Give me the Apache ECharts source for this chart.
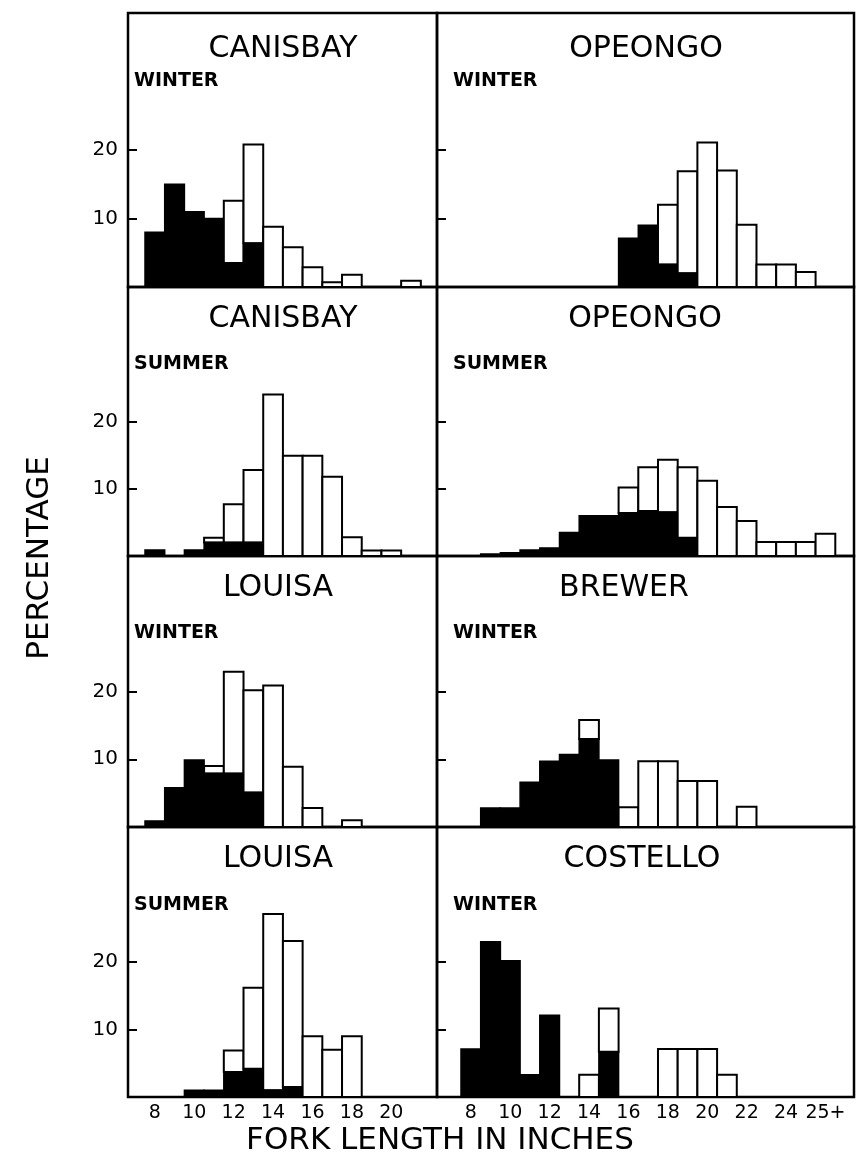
<!DOCTYPE html>
<html><head><meta charset="utf-8">
<script src="https://cdn.jsdelivr.net/npm/echarts@6/dist/echarts.min.js"></script>
<style>html,body{margin:0;padding:0;background:#fff}#c{width:864px;height:1168px}</style>
</head><body><div id="c"></div>
<script>
// ---- categories (inch classes) ----
const leftCats  = ['8','9','10','11','12','13','14','15','16','17','18','19','20','21','22'];
const rightCats = ['8','9','10','11','12','13','14','15','16','17','18','19','20','21','22','23','24','25','25+'];
// ---- tick labels ----
const leftTickLabels  = ['8','10','12','14','16','18','20'];
const rightTickLabels = ['8','10','12','14','16','18','20','22','24','25+'];
const yTickValues = [10, 20];
// ---- series values: black = lower (filled) part, total = full bar height (percent) ----
const canisbayWinterBlack = [8, 15, 11, 10, 3.5, 6.4, 0, 0, 0, 0, 0, 0, 0, 0];
const canisbayWinterTotal = [8, 15, 11, 10, 12.6, 20.8, 8.8, 5.8, 2.9, 0.7, 1.8, 0, 0, 0.9];
const opeongoWinterBlack  = [0, 0, 0, 0, 0, 0, 0, 0, 7.1, 9.0, 3.3, 2.0, 0, 0, 0, 0, 0, 0, 0];
const opeongoWinterTotal  = [0, 0, 0, 0, 0, 0, 0, 0, 7.1, 9.0, 12.0, 16.9, 21.1, 17.0, 9.1, 3.3, 3.3, 2.2, 0];
const canisbaySummerBlack = [0.9, 0, 0.9, 2.0, 2.0, 2.0, 0, 0, 0, 0, 0, 0, 0];
const canisbaySummerTotal = [0.9, 0, 0.9, 2.7, 7.7, 12.8, 24.0, 14.9, 14.9, 11.8, 2.8, 0.8, 0.8];
const opeongoSummerBlack  = [0, 0.3, 0.5, 0.9, 1.2, 3.5, 6.0, 6.0, 6.4, 6.7, 6.5, 2.7, 0, 0, 0, 0, 0, 0, 0];
const opeongoSummerTotal  = [0, 0.3, 0.5, 0.9, 1.2, 3.5, 6.0, 6.0, 10.2, 13.2, 14.3, 13.2, 11.2, 7.3, 5.2, 2.1, 2.1, 2.1, 3.3];
const louisaWinterBlack   = [0.9, 5.8, 9.9, 7.9, 7.9, 5.1, 0, 0, 0, 0, 0];
const louisaWinterTotal   = [0.9, 5.8, 9.9, 9.0, 22.9, 20.2, 20.9, 8.9, 2.8, 0, 1.0];
const brewerWinterBlack   = [0, 2.8, 2.8, 6.6, 9.7, 10.7, 13.0, 9.9, 0, 0, 0, 0, 0, 0, 0, 0, 0, 0, 0];
const brewerWinterTotal   = [0, 2.8, 2.8, 6.6, 9.7, 10.7, 15.8, 9.9, 2.9, 9.7, 9.7, 6.8, 6.8, 0, 3.0, 0, 0, 0, 0];
const louisaSummerBlack   = [0, 0, 1.0, 1.0, 3.7, 4.2, 1.0, 1.5, 0, 0, 0];
const louisaSummerTotal   = [0, 0, 1.0, 1.0, 6.9, 16.2, 27.1, 23.1, 9.0, 7.0, 9.0];
const costelloWinterBlack = [7.1, 23.0, 20.2, 3.3, 12.1, 0, 0, 6.7, 0, 0, 0, 0, 0, 0, 0, 0, 0, 0, 0];
const costelloWinterTotal = [7.1, 23.0, 20.2, 3.3, 12.1, 0, 3.3, 13.1, 0, 0, 7.1, 7.1, 7.1, 3.3, 0, 0, 0, 0, 0];

const panels = [
  {name:'CANISBAY', season:'WINTER', col:0, row:0, black:canisbayWinterBlack, total:canisbayWinterTotal, tx:283},
  {name:'OPEONGO',  season:'WINTER', col:1, row:0, black:opeongoWinterBlack,  total:opeongoWinterTotal,  tx:646},
  {name:'CANISBAY', season:'SUMMER', col:0, row:1, black:canisbaySummerBlack, total:canisbaySummerTotal, tx:283},
  {name:'OPEONGO',  season:'SUMMER', col:1, row:1, black:opeongoSummerBlack,  total:opeongoSummerTotal,  tx:645},
  {name:'LOUISA',   season:'WINTER', col:0, row:2, black:louisaWinterBlack,   total:louisaWinterTotal,   tx:278},
  {name:'BREWER',   season:'WINTER', col:1, row:2, black:brewerWinterBlack,   total:brewerWinterTotal,   tx:624},
  {name:'LOUISA',   season:'SUMMER', col:0, row:3, black:louisaSummerBlack,   total:louisaSummerTotal,   tx:278},
  {name:'COSTELLO', season:'WINTER', col:1, row:3, black:costelloWinterBlack, total:costelloWinterTotal, tx:642}
];

// ---- layout ----
const colLeft = [128, 437], colWidth = [309, 417];
const rowTop = [13, 287, 556, 827], rowHeight = [274, 269, 271, 270];
const xRange = [[6.637, 22.32], [6.282, 27.45]];
const titleY = [49, 319, 588, 859];
const seasonY = [81, 364, 633, 905];
const seasonX = [134, 453];
const FONT = 'DejaVu Sans';

function renderBar(params, api) {
  const x = api.value(0), b = api.value(1), t = api.value(2);
  const base = api.coord([x - 0.5, 0]);
  const right = api.coord([x + 0.5, 0]);
  const w = right[0] - base[0];
  const yb = api.coord([x, b])[1];
  const yt = api.coord([x, t])[1];
  const children = [];
  if (t > b) children.push({type:'rect', shape:{x:base[0], y:yt, width:w, height:yb - yt},
    style:{fill:'#fff', stroke:'#000', lineWidth:2}});
  if (b > 0) children.push({type:'rect', shape:{x:base[0], y:yb, width:w, height:base[1] - yb},
    style:{fill:'#000', stroke:'#000', lineWidth:1.5}});
  return {type:'group', children};
}

const grid = [], xAxis = [], yAxis = [], series = [], graphic = [];
panels.forEach((p, i) => {
  const cats = p.col === 0 ? leftCats : rightCats;
  const tickLabels = p.col === 0 ? leftTickLabels : rightTickLabels;
  grid.push({left: colLeft[p.col], top: rowTop[p.row], width: colWidth[p.col], height: rowHeight[p.row],
    show: true, borderColor: '#000', borderWidth: 2.5, containLabel: false});
  xAxis.push({type:'value', gridIndex:i, min: xRange[p.col][0], max: xRange[p.col][1],
    axisLine:{show:false}, axisTick:{show:false}, splitLine:{show:false},
    axisLabel:{show: p.row === 3, customValues: tickLabels.map(l => 8 + cats.indexOf(l)),
      formatter: v => cats[Math.round(v) - 8], color:'#000', fontSize:19, fontFamily:FONT, margin:7}});
  yAxis.push({type:'value', gridIndex:i, min:0, max:40,
    axisLine:{show:false}, splitLine:{show:false},
    axisTick:{show:true, inside:true, length:9, customValues:yTickValues, lineStyle:{color:'#000', width:2}},
    axisLabel:{show: p.col === 0, customValues:yTickValues, color:'#000', fontSize:20, fontFamily:FONT, margin:10}});
  series.push({type:'custom', xAxisIndex:i, yAxisIndex:i, renderItem: renderBar, clip:false,
    data: p.total.map((t, k) => [8 + k, p.black[k], t])});
  graphic.push({type:'text', x: p.tx, y: titleY[p.row],
    style:{text:p.name, fill:'#000', font:'30px "' + FONT + '"', textAlign:'center', textVerticalAlign:'middle'}});
  graphic.push({type:'text', x: seasonX[p.col], y: seasonY[p.row],
    style:{text:p.season, fill:'#000', font:'bold 19px "' + FONT + '"', textAlign:'left', textVerticalAlign:'middle'}});
});
graphic.push({type:'text', x:40, y:558, rotation: Math.PI/2,
  style:{text:'PERCENTAGE', fill:'#000', font:'31px "' + FONT + '"', textAlign:'center', textVerticalAlign:'middle'}});
graphic.push({type:'text', x:440, y:1141,
  style:{text:'FORK LENGTH IN INCHES', fill:'#000', font:'31px "' + FONT + '"', textAlign:'center', textVerticalAlign:'middle'}});

const chart = echarts.init(document.getElementById('c'), null, {renderer:'canvas'});
chart.setOption({backgroundColor:'#fff', animation:false, grid, xAxis, yAxis, series, graphic});
</script></body></html>
